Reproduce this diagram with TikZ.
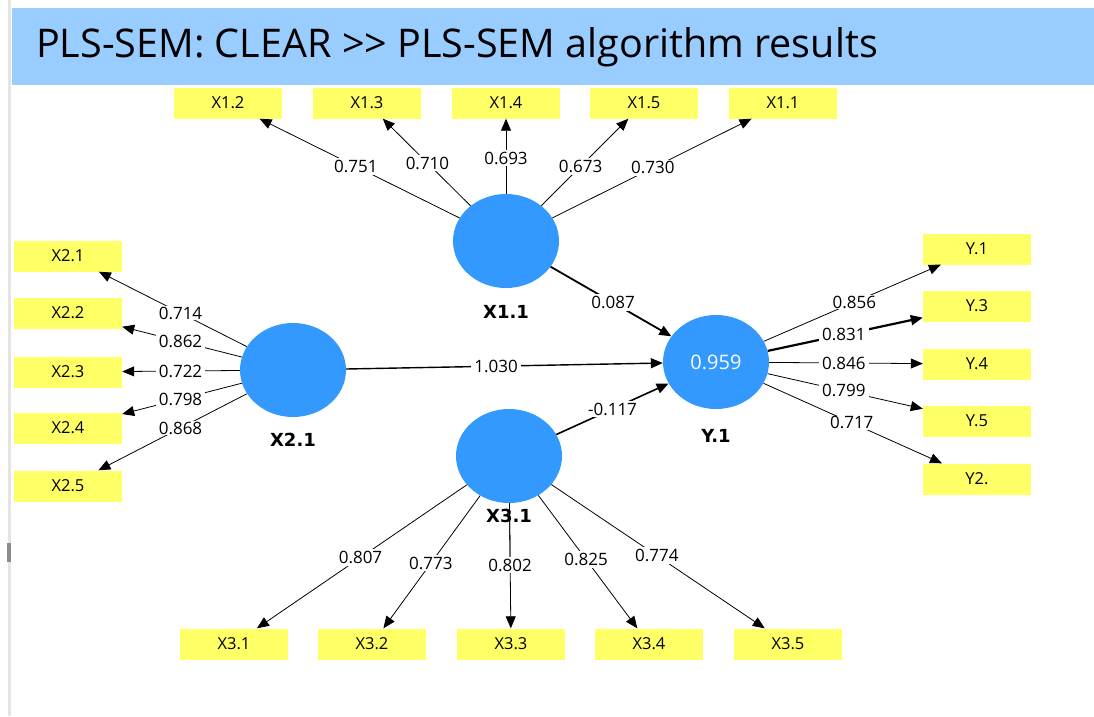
\documentclass[tikz,border=0pt]{standalone}
\usepackage{fontspec}
\setmainfont{Open Sans}
\newfontfamily\lvfont{DejaVu Sans}
\usetikzlibrary{arrows.meta,calc,shapes.geometric}
\definecolor{plsblue}{RGB}{51,153,255}
\definecolor{plsyellow}{RGB}{255,255,102}
\definecolor{plsbar}{RGB}{153,204,255}
\definecolor{plsgrey}{RGB}{228,228,228}

\begin{document}
\begin{tikzpicture}[
    x=1pt, y=-1pt,
    latent/.style={ellipse, fill=plsblue, minimum width=106pt, minimum height=94pt, inner sep=0pt},
    indicator/.style={rectangle, fill=plsyellow, minimum width=108pt, minimum height=31pt, inner sep=0pt, font=\fontsize{16.5}{16.5}\selectfont},
    weight/.style={fill=white, inner xsep=3pt, inner ysep=2pt, font=\fontsize{17}{17}\selectfont},
    lvname/.style={font=\lvfont\bfseries\fontsize{18}{18}\selectfont},
    loadarrow/.style={-{Triangle[length=12pt,width=10pt]}, line width=0.8pt},
]
    \useasboundingbox (0,0) rectangle (1094,716);
    % window frame and title bar
    \fill[plsgrey] (8,0) rectangle (11,716);
    \fill[black!45] (7,543) rectangle (11,562);
    \fill[plsbar] (12,8) rectangle (1094,85);
    \node[anchor=west, font=\fontsize{39.5}{39.5}\selectfont, inner sep=0pt] (title) at (36,47) {PLS-SEM: CLEAR {>}{>} PLS-SEM algorithm results};

    % latent variables
    \node[latent] (l1) at (506,241) {};
    \node[latent] (l2) at (293,370) {};
    \node[latent] (l3) at (509,456) {};
    \node[latent, font=\fontsize{20}{20}\selectfont, text=white] (ly) at (716,362) {0.959};
    \node[lvname] (n1) at (506,312) {X1.1};
    \node[lvname] (n2) at (293,440) {X2.1};
    \node[lvname] (ny) at (716,436) {Y.1};

    % X1.1 indicators
    \foreach \n/\x/\v/\t in {2/228/0.751/0.54, 3/367/0.710/0.565, 4/506/0.693/0.6, 5/644/0.673/0.54, 1/783/0.730/0.53} {
        \node[indicator] (b1\n) at (\x,103) {X1.\n};
        \draw[loadarrow] (l1) -- (b1\n);
        \node[weight] (w1\n) at ($(l1)!\t!(b1\n)$) {\v};
    }
    % X2.1 indicators
    \foreach \n/\y/\v in {1/256/0.714, 2/313/0.862, 3/372/0.722, 4/428/0.798, 5/486/0.868} {
        \node[indicator] (b2\n) at (68,\y) {X2.\n};
        \draw[loadarrow] (l2) -- (b2\n);
        \node[weight, inner ysep=0.5pt] (w2\n) at ($(l2)!0.5!(b2\n)$) {\v};
    }
    % X3.1 indicators
    \foreach \n/\x/\v/\t in {1/234/0.807/0.54, 2/372/0.773/0.57, 3/511/0.802/0.58, 4/649/0.825/0.55, 5/788/0.774/0.53} {
        \node[indicator] (b3\n) at (\x,644) {X3.\n};
        \draw[loadarrow] (l3) -- (b3\n);
        \node[weight] (w3\n) at ($(l3)!\t!(b3\n)$) {\v};
    }
    \node[lvname] (n3) at (509,516) {X3.1};
    \draw[line width=0.8pt] (l3) -- (w33);

    % Y.1 indicators
    \foreach \n/\lab/\y/\v/\t/\w in {1/Y.1/249/0.856/0.53/0.8pt, 3/Y.3/306/0.831/0.49/2.2pt, 4/Y.4/364/0.846/0.49/0.8pt, 5/Y.5/421/0.799/0.49/0.8pt, 2/Y2./479/0.717/0.52/0.8pt} {
        \node[indicator] (by\n) at (977,\y) {\lab};
        \draw[loadarrow, line width=\w] (ly) -- (by\n);
        \node[weight, inner ysep=0.5pt] (wy\n) at ($(ly)!\t!(by\n)$) {\v};
    }

    % inner model
    \draw[loadarrow, line width=1.8pt] (l1) -- (ly);
    \node[weight] (p1) at ($(l1)!0.51!(ly)$) {0.087};
    \draw[loadarrow, line width=1.4pt] (l2) -- (ly);
    \node[weight] (p2) at ($(l2)!0.48!(ly)$) {1.030};
    \draw[loadarrow, line width=1.6pt] (l3) -- (ly);
    \node[weight] (p3) at ($(l3)!0.5!(ly)$) {-0.117};
\end{tikzpicture}
\end{document}
